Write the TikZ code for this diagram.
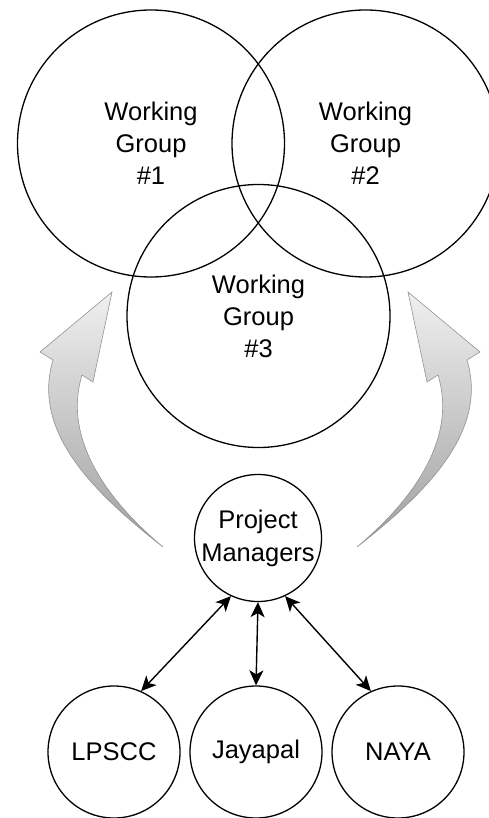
\documentclass[tikz,border=0pt]{standalone}
\usepackage{fontspec}
\setmainfont{Liberation Sans}
\usetikzlibrary{arrows.meta}

\begin{document}
\begin{tikzpicture}[x=1pt,y=-1pt,
  group/.style={circle,draw,line width=1.3pt,inner sep=0pt,minimum size=267pt,
    align=center,font=\fontsize{25.5}{32}\selectfont},
  member/.style={circle,draw,line width=1.3pt,inner sep=0pt,minimum size=132pt,
    align=center,font=\fontsize{25.5}{33}\selectfont},
  link/.style={{Stealth[length=15pt,width=14pt,inset=4pt]}-{Stealth[length=15pt,width=14pt,inset=4pt]},
    line width=1.4pt},
  bigarrow/.style={draw=gray!85,line width=0.6pt,top color=gray!12,bottom color=gray!75}]
\clip (0,0) rectangle (489,818);
\node[group] (wg1) at (151,143.5) {Working\\Group\\\#1};
\node[group] (wg2) at (365.5,143.5) {Working\\Group\\\#2};
\node[group,minimum size=263pt] (wg3) at (258.5,316) {Working\\Group\\\#3};
\begin{scope}
  \path[bigarrow] (163,547) .. controls (90,490) and (32,430) .. (53,360)
    -- (40,352) -- (112,292) -- (93,382) -- (82,375)
    .. controls (65,430) and (95,490) .. (163,547) -- cycle;
\end{scope}
\begin{scope}[xshift=520pt,xscale=-1]
  \path[bigarrow] (163,547) .. controls (90,490) and (32,430) .. (53,360)
    -- (40,352) -- (112,292) -- (93,382) -- (82,375)
    .. controls (65,430) and (95,490) .. (163,547) -- cycle;
\end{scope}
\node[member,minimum size=127pt] (pm) at (258,538) {Project\\Managers};
\node[member] (lpscc) at (114,752) {LPSCC};
\node[member] (jay) at (256,752) {Jayapal};
\node[member] (naya) at (398,752) {NAYA};
\draw[link] (pm.-115) -- (lpscc.66);
\draw[link] (pm.south) -- (jay.north);
\draw[link] (pm.-65) -- (naya.114);
\end{tikzpicture}
\end{document}
